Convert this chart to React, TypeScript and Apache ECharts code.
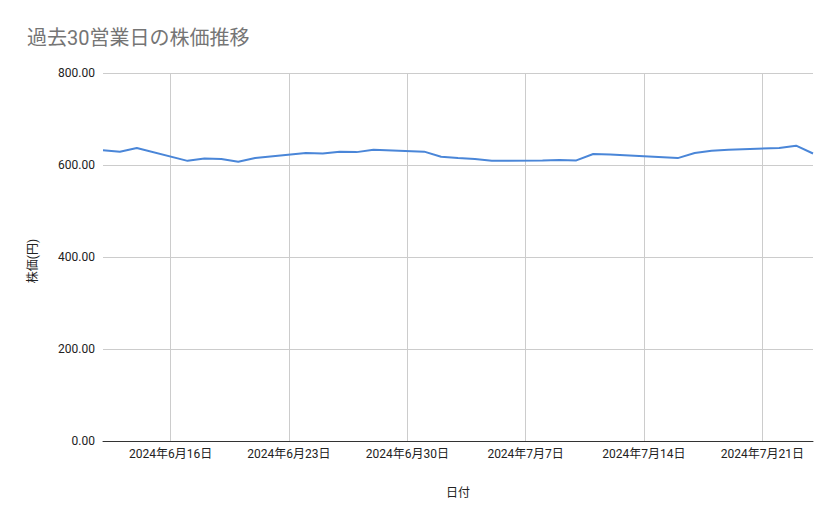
import React, { useEffect, useRef } from "react";
import * as echarts from "echarts";

const dates: string[] = [
  "2024-06-12", "2024-06-13", "2024-06-14", "2024-06-17", "2024-06-18", "2024-06-19",
  "2024-06-20", "2024-06-21", "2024-06-24", "2024-06-25", "2024-06-26", "2024-06-27",
  "2024-06-28", "2024-07-01", "2024-07-02", "2024-07-03", "2024-07-04", "2024-07-05",
  "2024-07-08", "2024-07-09", "2024-07-10", "2024-07-11", "2024-07-12", "2024-07-16",
  "2024-07-17", "2024-07-18", "2024-07-19", "2024-07-22", "2024-07-23", "2024-07-24",
];

const prices: number[] = [
  632, 629, 637, 609, 614, 613,
  607, 615, 626, 625, 629, 628,
  633, 629, 618, 615, 613, 609,
  610, 611, 610, 624, 623, 615,
  626, 631, 633, 637, 642, 625,
];

const tickDates: string[] = [
  "2024-06-16", "2024-06-23", "2024-06-30", "2024-07-07", "2024-07-14", "2024-07-21",
];

const axisRange: string[] = ["2024-06-12", "2024-07-24"];

const yTicks: number[] = [0, 200, 400, 600, 800];

const titleText = "過去30営業日の株価推移";
const xName = "日付";
const yName = "株価(円)";

const DAY = 86400000;
const utc = (s: string): number => {
  const [y, m, d] = s.split("-").map(Number);
  return Date.UTC(y, m - 1, d);
};
const base = utc(axisRange[0]);
const dayOf = (s: string): number => Math.round((utc(s) - base) / DAY);
const labelOf = (v: number): string => {
  const d = new Date(base + Math.round(v) * DAY);
  return `${d.getUTCFullYear()}年${d.getUTCMonth() + 1}月${d.getUTCDate()}日`;
};

const FONT = "Roboto, 'Noto Sans CJK JP', sans-serif";

export default function App() {
  const ref = useRef<HTMLDivElement>(null);

  useEffect(() => {
    if (!ref.current) return;
    const chart = echarts.init(ref.current, undefined, { renderer: "svg" });
    const tickDays = tickDates.map(dayOf);
    chart.setOption({
      animation: false,
      backgroundColor: "#ffffff",
      title: {
        text: titleText,
        left: 27,
        top: 28,
        padding: 0,
        textStyle: { color: "#757575", fontSize: 20, fontWeight: "normal", fontFamily: FONT },
      },
      grid: { left: 103, right: 26, top: 73, bottom: 78, containLabel: false },
      xAxis: {
        type: "value",
        min: dayOf(axisRange[0]),
        max: dayOf(axisRange[1]),
        name: xName,
        nameLocation: "middle",
        nameGap: 46,
        nameTextStyle: { color: "#222222", fontSize: 12, fontFamily: FONT },
        axisLine: { show: true, onZero: false, lineStyle: { color: "#333333", width: 1 } },
        axisTick: { show: false, customValues: tickDays },
        axisLabel: {
          customValues: tickDays,
          color: "#222222",
          fontSize: 12,
          fontFamily: FONT,
          margin: 7,
          showMinLabel: true,
          showMaxLabel: true,
          formatter: (v: number) => labelOf(v),
        },
        splitLine: { show: true, lineStyle: { color: "#cccccc", width: 1 } },
      },
      yAxis: {
        type: "value",
        min: yTicks[0],
        max: yTicks[yTicks.length - 1],
        interval: yTicks[1] - yTicks[0],
        name: yName,
        nameLocation: "middle",
        nameGap: 64,
        nameRotate: 90,
        nameTextStyle: { color: "#222222", fontSize: 12, fontFamily: FONT, padding: [0, 8, 0, 0] },
        axisLine: { show: false },
        axisTick: { show: false },
        axisLabel: {
          color: "#222222",
          fontSize: 12,
          fontFamily: FONT,
          margin: 8,
          formatter: (v: number) => v.toFixed(2),
        },
        splitLine: { show: true, lineStyle: { color: "#cccccc", width: 1 } },
      },
      series: [
        {
          type: "line",
          data: dates.map((d, i) => [dayOf(d), prices[i]]),
          showSymbol: false,
          symbol: "none",
          lineStyle: { color: "#4a86d8", width: 2 },
          itemStyle: { color: "#4a86d8" },
          z: 3,
        },
      ],
    });
    return () => chart.dispose();
  }, []);

  return (
    <div
      ref={ref}
      style={{ position: "fixed", left: 0, top: 0, width: 839, height: 519, background: "#fff" }}
    />
  );
}
